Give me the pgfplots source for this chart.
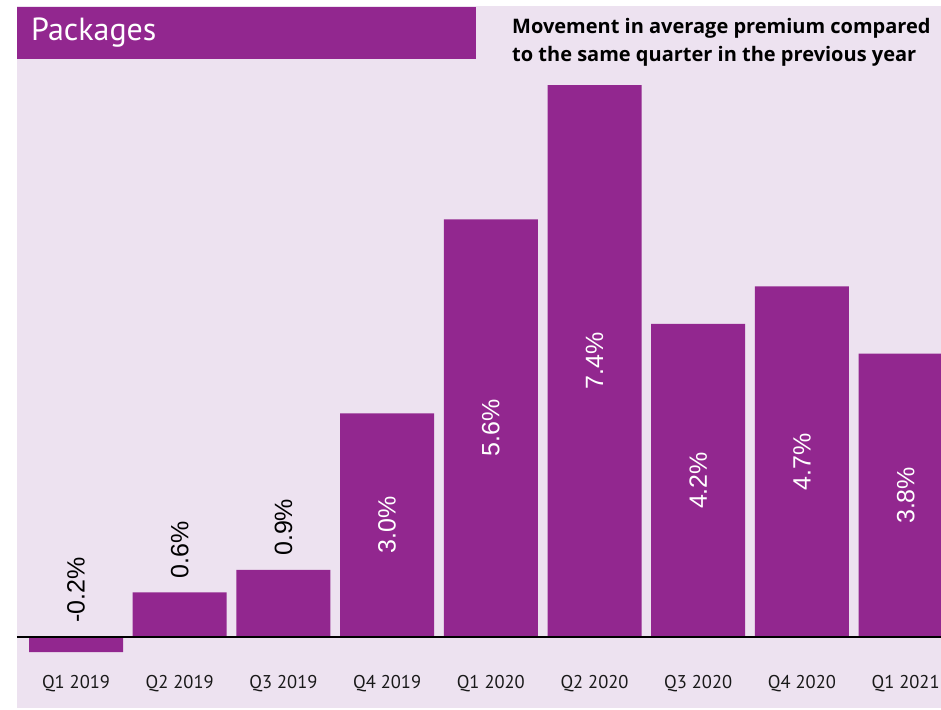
\documentclass[border=0pt]{standalone}
\usepackage{pgfplots}
\pgfplotsset{compat=1.18}
\usepackage{fontspec}
\setmainfont{PT Sans}
\newfontfamily\lblfont{Liberation Sans}
\newfontfamily\subfont{Open Sans}
\definecolor{barc}{RGB}{146,39,143}
\definecolor{bgc}{RGB}{237,226,240}
\begin{document}
\begin{tikzpicture}[x=1pt,y=1pt]
\path[use as bounding box] (0,0) rectangle (941,709);
\begin{axis}[
  at={(17pt,1pt)}, anchor=south west,
  scale only axis, width=924pt, height=702pt,
  xmin=-0.569, xmax=8.341, ymin=-0.95, ymax=8.46,
  axis background/.style={fill=bgc},
  axis line style={draw=none},
  axis on top,
  major tick length=0pt,
  ytick=\empty,
  extra y ticks={0}, extra y tick labels={},
  extra y tick style={grid=major, major grid style={black, line width=1.6pt}},
  xtick={0,1,2,3,4,5,6,7,8},
  xticklabels={Q1 2019,Q2 2019,Q3 2019,Q4 2019,Q1 2020,Q2 2020,Q3 2020,Q4 2020,Q1 2021},
  xticklabel style={anchor=base, yshift=20pt, font=\fontsize{18.5}{18.5}\selectfont, text=black!90},
  /pgf/number format/assume math mode=true,
]
\addplot[ybar, bar width=94pt, bar shift=0pt, fill=barc, draw=none]
  coordinates {(0,-0.2) (1,0.6) (2,0.9) (3,3.0) (4,5.6) (5,7.4) (6,4.2) (7,4.7) (8,3.8)};
% labels centred in the tall bars
\addplot[draw=none, mark=none, point meta=y,
  nodes near coords={\pgfmathprintnumber[fixed,fixed zerofill,precision=1]{\pgfplotspointmeta}\%},
  visualization depends on={y \as \rawy},
  every node near coord/.append style={shift={(axis direction cs:0,-\rawy/2)}, rotate=90, anchor=center, inner sep=0pt, text=white, font=\lblfont\fontsize{25}{25}\selectfont}]
  coordinates {(3,3.0) (4,5.6) (5,7.4) (6,4.2) (7,4.7) (8,3.8)};
% labels above the short bars (position, [value])
\addplot[draw=none, mark=none, point meta=explicit,
  nodes near coords={\pgfmathprintnumber[fixed,fixed zerofill,precision=1]{\pgfplotspointmeta}\%},
  every node near coord/.append style={yshift=14pt, rotate=90, anchor=west, inner sep=0pt, text=black, font=\lblfont\fontsize{25}{25}\selectfont}]
  coordinates {(0,0) [-0.2] (1,0.6) [0.6] (2,0.9) [0.9]};
\end{axis}
\fill[barc] (17,650) rectangle (476,702);
\node[anchor=base west, inner sep=0pt, text=white, font=\fontsize{32}{32}\selectfont] at (31,668) {Packages};
\node[anchor=base west, inner sep=0pt, align=left, font=\subfont\bfseries\fontsize{20}{28}\selectfont] at (512,647) {Movement in average premium compared\\to the same quarter in the previous year};
\end{tikzpicture}
\end{document}
